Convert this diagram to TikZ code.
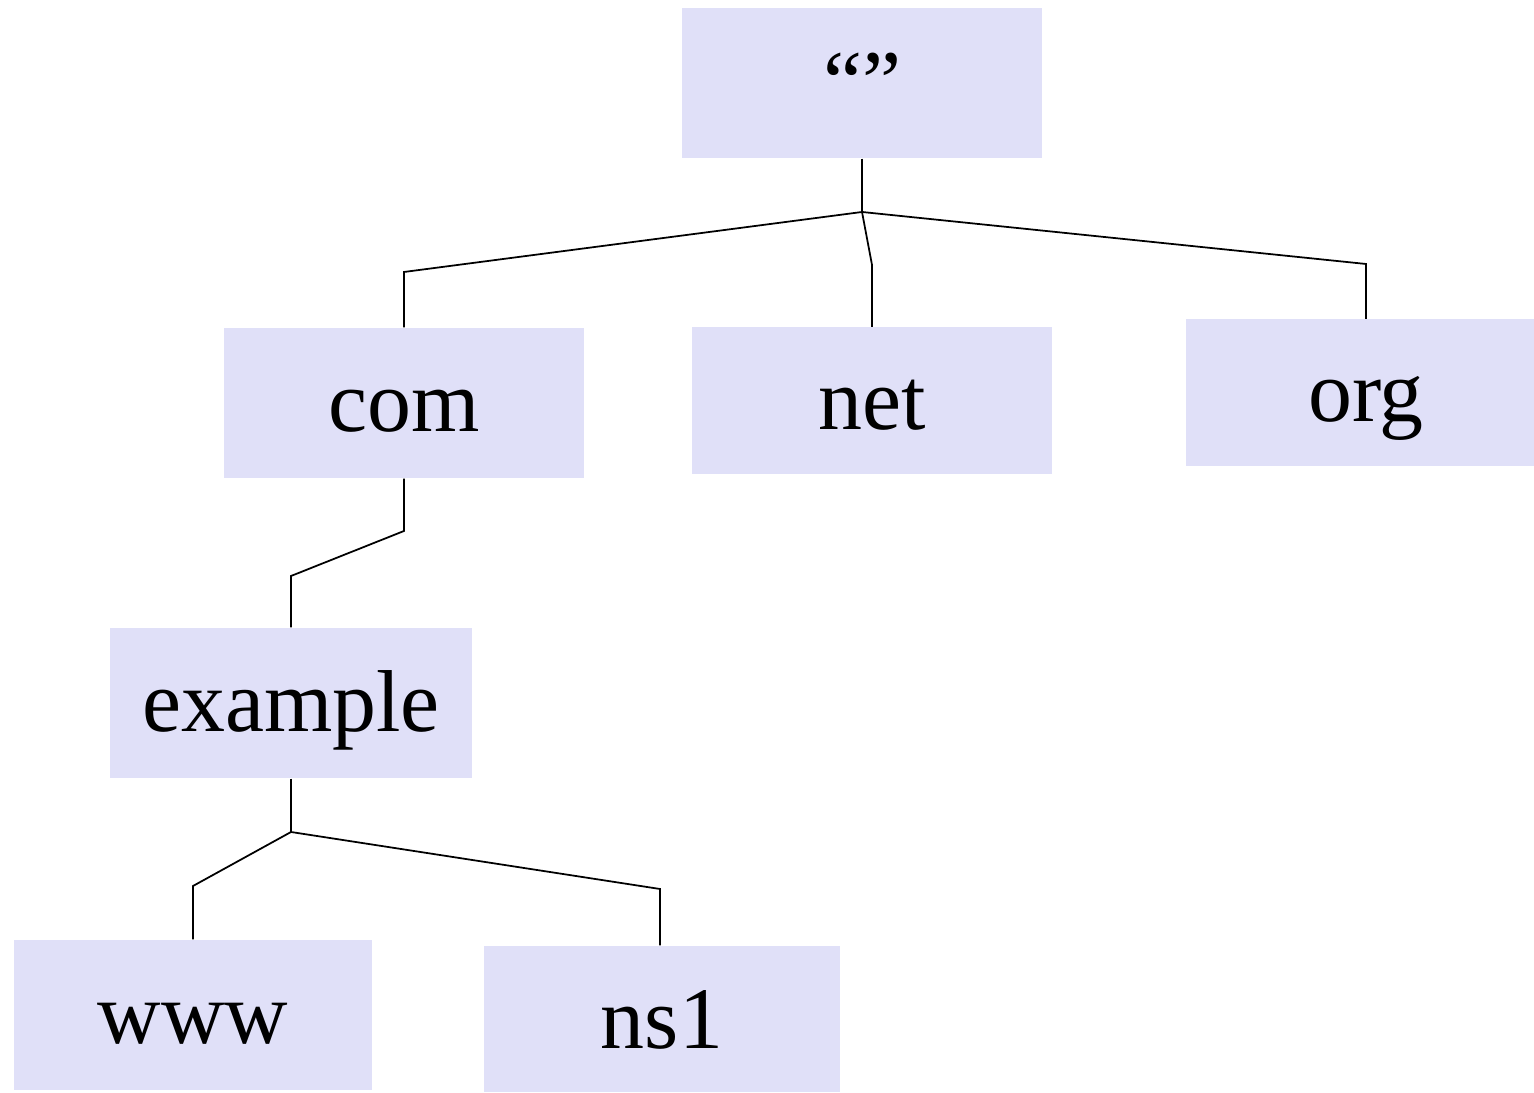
\documentclass[tikz,border=0pt]{standalone}
\usepackage{fontspec}
\setmainfont{Liberation Serif}
\usetikzlibrary{positioning}
\definecolor{boxfill}{HTML}{E0E0F8}

\begin{document}
\begin{tikzpicture}[every node/.style={font=\fontsize{25}{30}\selectfont}]
  \tikzset{
    dom/.style={fill=boxfill, minimum width=3.6cm, minimum height=1.5cm, inner sep=0pt,
      text height=0.72cm, text depth=0.14cm},
    link/.style={line width=0.5pt}
  }
  \clip (0,0) rectangle (15.34,10.92);
  \node[dom] (root) at (8.62,10.09) {“”};
  \node[dom] (com)  at (4.04,6.89)  {com};
  \node[dom, minimum height=1.47cm] (net)  at (8.72,6.91)  {net};
  \node[dom, minimum height=1.47cm] (org)  at (13.66,6.99) {org};
  \node[dom, minimum width=3.62cm] (ex) at (2.91,3.89) {example};
  \node[dom, minimum width=3.58cm] (www)  at (1.93,0.77)  {www};
  \node[dom, minimum width=3.56cm, minimum height=1.46cm] (ns1) at (6.62,0.73) {ns1};
  % bend points
  \coordinate (j0) at (8.62,8.80);
  \coordinate (bcom) at (4.04,8.20);
  \coordinate (bnet) at (8.72,8.27);
  \coordinate (borg) at (13.66,8.28);
  \coordinate (bc1) at (4.04,5.61);
  \coordinate (bc2) at (2.91,5.16);
  \coordinate (j1) at (2.91,2.60);
  \coordinate (bwww) at (1.93,2.06);
  \coordinate (bns1) at (6.60,2.03);
  \draw[link] (root.south) -- (j0);
  \draw[link] (j0) -- (bcom) -- (com.north);
  \draw[link] (j0) -- (bnet) -- (net.north);
  \draw[link] (j0) -- (borg) -- (org.north);
  \draw[link] (com.south) -- (bc1) -- (bc2) -- (ex.north);
  \draw[link] (ex.south) -- (j1);
  \draw[link] (j1) -- (bwww) -- (www.north);
  \draw[link] (j1) -- (bns1) -- (bns1 |- ns1.north);
\end{tikzpicture}
\end{document}
